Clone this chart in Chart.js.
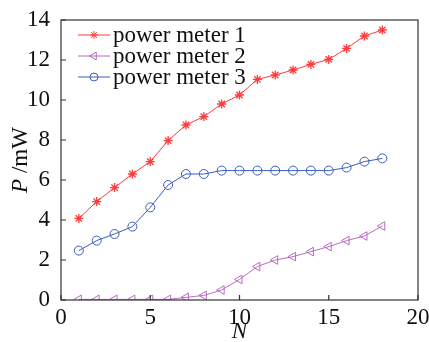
<!DOCTYPE html>
<html><head><meta charset="utf-8">
<script src="https://cdn.jsdelivr.net/npm/chart.js@4/dist/chart.umd.min.js"></script>
<style>html,body{margin:0;padding:0;background:#fff}#wrap{width:429px;height:342px}</style>
</head><body><div id="wrap"><canvas id="c" width="429" height="342"></canvas></div>
<script>
const N = [1,2,3,4,5,6,7,8,9,10,11,12,13,14,15,16,17,18];
const meter1 = [4.08,4.92,5.62,6.3,6.92,7.97,8.75,9.17,9.8,10.25,11.03,11.25,11.5,11.78,12.03,12.58,13.2,13.5];
const meter2 = [0.03,0.03,0.03,0.03,0.03,0.03,0.13,0.23,0.5,1.03,1.67,2.0,2.17,2.42,2.67,2.97,3.2,3.7];
const meter3 = [2.47,2.97,3.3,3.67,4.63,5.75,6.3,6.3,6.47,6.47,6.47,6.47,6.47,6.47,6.47,6.62,6.92,7.08];
const labels = ['power meter 1','power meter 2','power meter 3'];
const xTicks = [0,5,10,15,20];
const yTicks = [0,2,4,6,8,10,12,14];
const FONT = '"Liberation Serif", serif';

const colors = ['#ff3b3b','#b66cc0','#3a5ec0'];
function pts(arr){return N.map((x,i)=>({x:x,y:arr[i]}));}

const frame = {
  id:'frame',
  afterDraw(chart){
    const ctx=chart.ctx, a=chart.chartArea;
    const xs=chart.scales.x, ys=chart.scales.y;
    ctx.save();
    ctx.strokeStyle='#333'; ctx.lineWidth=1.2;
    ctx.strokeRect(a.left,a.top,a.right-a.left,a.bottom-a.top);
    ctx.beginPath();
    xTicks.forEach(v=>{const p=xs.getPixelForValue(v);ctx.moveTo(p,a.bottom);ctx.lineTo(p,a.bottom-5);});
    yTicks.forEach(v=>{const p=ys.getPixelForValue(v);ctx.moveTo(a.left,p);ctx.lineTo(a.left+5,p);});
    ctx.stroke();
    // legend
    ctx.font='23px '+FONT; ctx.textBaseline='middle';
    chart.data.datasets.forEach((ds,i)=>{
      const y=a.top+15+i*21, x0=a.left+17, x1=a.left+49, xm=(x0+x1)/2;
      ctx.strokeStyle=ds.borderColor; ctx.lineWidth=1;
      ctx.beginPath(); ctx.moveTo(x0,y); ctx.lineTo(x1,y); ctx.stroke();
      ctx.fillStyle=ds.pointBackgroundColor; ctx.strokeStyle=ds.pointBorderColor;
      Chart.helpers.drawPoint(ctx,{pointStyle:ds.pointStyle,rotation:ds.pointRotation||0,radius:ds.pointRadius-0.5,borderWidth:1},xm,y);
      ctx.fillStyle='#111';
      ctx.fillText(ds.label,a.left+52,y+1);
    });
    // axis titles
    ctx.fillStyle='#111';
    ctx.textBaseline='middle'; ctx.textAlign='center';
    ctx.font='italic 23px '+FONT;
    ctx.fillText('N',(a.left+a.right)/2,332);
    ctx.save();
    ctx.translate(21,(a.top+a.bottom)/2);
    ctx.rotate(-Math.PI/2);
    ctx.font='italic 23px '+FONT;
    const wP=ctx.measureText('P').width;
    ctx.font='23px '+FONT;
    const rest=' /mW', wR=ctx.measureText(rest).width;
    const tot=wP+wR;
    ctx.textAlign='left';
    ctx.font='italic 23px '+FONT;
    ctx.fillText('P',-tot/2,0);
    ctx.font='23px '+FONT;
    ctx.fillText(rest,-tot/2+wP,0);
    ctx.restore();
    ctx.restore();
  }
};

new Chart(document.getElementById('c'),{
  type:'line',
  data:{datasets:[
    {label:labels[0],data:pts(meter1),borderColor:colors[0],backgroundColor:colors[0],borderWidth:1,pointStyle:'star',pointRadius:4.5,pointBorderWidth:1.3,pointBorderColor:colors[0],pointBackgroundColor:colors[0]},
    {label:labels[1],data:pts(meter2),borderColor:colors[1],backgroundColor:'rgba(0,0,0,0)',borderWidth:1,pointStyle:'triangle',pointRotation:-90,pointRadius:5,pointBorderWidth:1,pointBorderColor:colors[1],pointBackgroundColor:'rgba(0,0,0,0)'},
    {label:labels[2],data:pts(meter3),borderColor:colors[2],backgroundColor:'rgba(0,0,0,0)',borderWidth:1,pointStyle:'circle',pointRadius:4.5,pointBorderWidth:1,pointBorderColor:colors[2],pointBackgroundColor:'rgba(0,0,0,0)'}
  ]},
  options:{
    responsive:false,animation:false,
    layout:{padding:{top:20,right:11,left:0,bottom:0}},
    plugins:{legend:{display:false},tooltip:{enabled:false}},
    scales:{
      x:{type:'linear',min:0,max:20,
        afterFit(s){s.height=42;},
        afterBuildTicks(s){s.ticks=xTicks.map(v=>({value:v}));},
        grid:{display:false},border:{display:false},
        ticks:{font:{family:FONT,size:23},color:'#111',padding:-4,maxRotation:0},
        title:{display:false}
      },
      y:{type:'linear',min:0,max:14,
        afterFit(s){s.width=61;},
        afterBuildTicks(s){s.ticks=yTicks.map(v=>({value:v}));},
        grid:{display:false},border:{display:false},
        ticks:{font:{family:FONT,size:23},color:'#111',padding:3},
        title:{display:false}
      }
    }
  },
  plugins:[frame]
});
</script></body></html>
